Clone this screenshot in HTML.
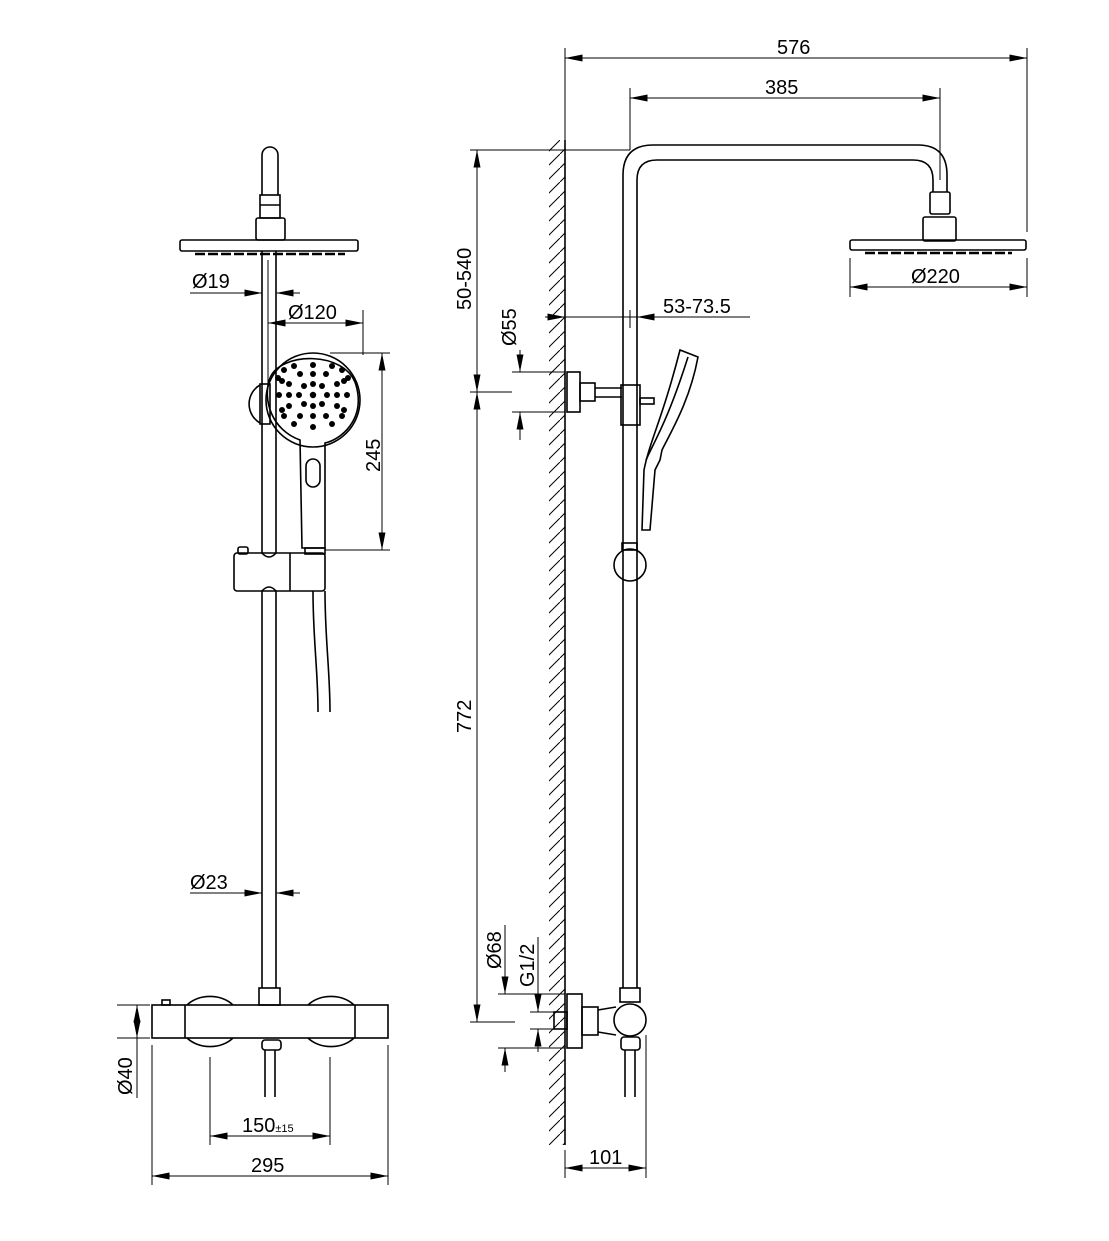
<!DOCTYPE html>
<html><head><meta charset="utf-8"><style>
html,body{margin:0;padding:0;background:#fff}
svg{display:block}
text{font-family:"Liberation Sans",Arial,sans-serif;font-size:20px;fill:#000}
</style></head><body>
<svg width="1109" height="1241" viewBox="0 0 1109 1241" xmlns="http://www.w3.org/2000/svg">
<defs>
<marker id="a" viewBox="0 0 20 8" refX="20" refY="4" markerWidth="20" markerHeight="7" markerUnits="userSpaceOnUse" orient="auto-start-reverse"><path d="M0,0 L20,4 L0,8 z" fill="#000"/></marker>
<pattern id="h" width="14" height="14" patternUnits="userSpaceOnUse"><path d="M-2,16 L16,-2" stroke="#000" stroke-width="1"/></pattern>
</defs>
<g fill="none" stroke="#000" stroke-width="1.6">
<path d="M262,195 V155 a8,8 0 0 1 16,0 V195"/>
<rect x="260" y="195" width="20" height="23"/>
<line x1="260" y1="205" x2="280" y2="205"/>
<rect x="256" y="218" width="29" height="22" rx="2"/>
<rect x="180" y="240" width="178" height="11" rx="2"/>
<line x1="195" y1="254" x2="345" y2="254" stroke-width="2.5" stroke-dasharray="10,3"/>
<line x1="262" y1="251" x2="262" y2="553"/><line x1="276" y1="251" x2="276" y2="553"/>
<path d="M260,385 a22,22 0 0 0 0,38"/>
<rect x="260" y="384" width="10" height="40"/>
<circle cx="313" cy="400" r="47"/>
<path d="M300,440 C272,430 262,400 270,378 C280,352 345,350 356,385 C366,420 340,440 325,443 L325,548 L302,548 Z"/>
<rect x="306" y="459" width="14" height="28" rx="7"/>
<rect x="305" y="548" width="20" height="6"/>
<g fill="#000" stroke="none">
<circle cx="313" cy="365" r="3"/><circle cx="313" cy="374" r="3"/><circle cx="313" cy="384" r="3"/><circle cx="313" cy="395" r="3.2"/><circle cx="313" cy="406" r="3"/><circle cx="313" cy="416" r="3"/><circle cx="313" cy="427" r="3"/>
<circle cx="279" cy="395" r="3"/><circle cx="289" cy="395" r="3"/><circle cx="299" cy="395" r="3"/><circle cx="327" cy="395" r="3"/><circle cx="337" cy="395" r="3"/><circle cx="347" cy="395" r="3"/>
<circle cx="294" cy="366" r="3"/><circle cx="332" cy="366" r="3"/><circle cx="300" cy="374" r="3"/><circle cx="326" cy="374" r="3"/><circle cx="304" cy="386" r="3"/><circle cx="322" cy="386" r="3"/>
<circle cx="304" cy="404" r="3"/><circle cx="322" cy="404" r="3"/><circle cx="300" cy="416" r="3"/><circle cx="326" cy="416" r="3"/><circle cx="294" cy="424" r="3"/><circle cx="332" cy="424" r="3"/>
<circle cx="282" cy="381" r="3"/><circle cx="344" cy="381" r="3"/><circle cx="289" cy="384" r="3"/><circle cx="337" cy="384" r="3"/><circle cx="282" cy="410" r="3"/><circle cx="344" cy="410" r="3"/><circle cx="289" cy="406" r="3"/><circle cx="337" cy="406" r="3"/>
<circle cx="348" cy="378" r="3"/><circle cx="278" cy="378" r="3"/><circle cx="284" cy="370" r="3"/><circle cx="342" cy="370" r="3"/><circle cx="284" cy="416" r="3"/><circle cx="342" cy="416" r="3"/>
</g>
<rect x="234" y="553" width="91" height="38" rx="3"/>
<line x1="290" y1="553" x2="290" y2="591"/>
<rect x="238" y="547" width="10" height="7" rx="2"/>
<path d="M262,553 q7,8 14,0 M262,591 q7,-8 14,0"/>
<line x1="262" y1="591" x2="262" y2="988"/><line x1="276" y1="591" x2="276" y2="988"/>
<path d="M313,591 C313,640 318,670 318,712 M325,591 C325,640 330,670 330,712"/>
<rect x="259" y="988" width="21" height="17"/>
<rect x="152" y="1005" width="236" height="33"/>
<line x1="185" y1="1005" x2="185" y2="1038"/><line x1="355" y1="1005" x2="355" y2="1038"/>
<path d="M187,1005 a30,24 0 0 1 46,0 M187,1038 a30,24 0 0 0 46,0 M308,1005 a30,24 0 0 1 46,0 M308,1038 a30,24 0 0 0 46,0"/>
<rect x="162" y="1000" width="8" height="5"/>
<rect x="262" y="1040" width="19" height="10" rx="3"/>
<line x1="265" y1="1050" x2="265" y2="1097"/><line x1="275" y1="1050" x2="275" y2="1097"/>
</g>
<g fill="none" stroke="#000" stroke-width="1">
<line x1="190" y1="293" x2="262" y2="293" marker-end="url(#a)"/><line x1="300" y1="293" x2="276" y2="293" marker-end="url(#a)"/>
<line x1="268" y1="260" x2="268" y2="385"/><line x1="363" y1="310" x2="363" y2="355"/>
<line x1="268" y1="323" x2="363" y2="323" marker-start="url(#a)" marker-end="url(#a)"/>
<line x1="330" y1="353" x2="390" y2="353"/><line x1="325" y1="550" x2="390" y2="550"/>
<line x1="382" y1="353" x2="382" y2="550" marker-start="url(#a)" marker-end="url(#a)"/>
<line x1="190" y1="893" x2="262" y2="893" marker-end="url(#a)"/><line x1="300" y1="893" x2="276" y2="893" marker-end="url(#a)"/>
<line x1="117" y1="1005" x2="150" y2="1005"/><line x1="117" y1="1038" x2="150" y2="1038"/>
<line x1="137" y1="1005" x2="137" y2="1098"/>
<line x1="137" y1="1005" x2="137" y2="1038" marker-start="url(#a)" marker-end="url(#a)"/>
<line x1="210" y1="1057" x2="210" y2="1145"/><line x1="330" y1="1057" x2="330" y2="1145"/>
<line x1="210" y1="1136" x2="330" y2="1136" marker-start="url(#a)" marker-end="url(#a)"/>
<line x1="152" y1="1045" x2="152" y2="1185"/><line x1="388" y1="1045" x2="388" y2="1185"/>
<line x1="152" y1="1176" x2="388" y2="1176" marker-start="url(#a)" marker-end="url(#a)"/>
</g>
<text x="192" y="288">Ø19</text>
<text x="288" y="319">Ø120</text>
<text transform="translate(380,472) rotate(-90)">245</text>
<text x="190" y="889">Ø23</text>
<text transform="translate(132,1095) rotate(-90)">Ø40</text>
<text x="242" y="1132">150<tspan font-size="11">±15</tspan></text>
<text x="251" y="1172">295</text>

<rect x="549" y="140" width="16" height="1005" fill="url(#h)"/>
<line x1="565" y1="140" x2="565" y2="1145" stroke="#000" stroke-width="1.6"/>
<g fill="none" stroke="#000" stroke-width="1.6">
<path d="M623,988 V175 Q623,145 653,145 H918 Q947,145 947,175 V192"/>
<path d="M637,988 V180 Q637,160 657,160 H913 Q933,160 933,180 V192"/>
<rect x="930" y="192" width="20" height="22" rx="2"/>
<rect x="923" y="217" width="33" height="24" rx="2"/>
<rect x="850" y="240" width="176" height="10" rx="2"/>
<line x1="865" y1="253" x2="1012" y2="253" stroke-width="2.5" stroke-dasharray="10,3"/>
<rect x="567" y="372" width="13" height="40"/>
<rect x="580" y="383" width="15" height="18"/>
<path d="M595,388 H622 M595,397 H622"/>
<rect x="621" y="385" width="19" height="40"/>
<rect x="640" y="398" width="14" height="6"/>
<path d="M642,530 L644,470 C650,440 662,420 680,350 L698,357 C690,400 672,430 662,450 L660,460 L655,470 L650,530 Z"/>
<path d="M646,460 C655,440 668,420 688,357"/>
<rect x="622" y="543" width="15" height="7"/>
<circle cx="630" cy="565" r="16"/>
<rect x="620" y="988" width="20" height="14"/>
<rect x="567" y="994" width="15" height="54"/>
<rect x="582" y="1007" width="16" height="28"/>
<rect x="554" y="1012" width="13" height="17"/>
<path d="M598,1010 L616,1007 M598,1032 L616,1035"/>
<circle cx="630" cy="1020" r="16"/>
<rect x="621" y="1037" width="19" height="13" rx="3"/>
<line x1="625" y1="1050" x2="625" y2="1097"/><line x1="635" y1="1050" x2="635" y2="1097"/>
</g>
<g fill="none" stroke="#000" stroke-width="1">
<line x1="565" y1="48" x2="565" y2="140"/><line x1="1027" y1="48" x2="1027" y2="232"/>
<line x1="565" y1="58" x2="1027" y2="58" marker-start="url(#a)" marker-end="url(#a)"/>
<line x1="630" y1="88" x2="630" y2="150"/><line x1="940" y1="88" x2="940" y2="180"/>
<line x1="630" y1="98" x2="940" y2="98" marker-start="url(#a)" marker-end="url(#a)"/>
<line x1="850" y1="258" x2="850" y2="297"/><line x1="1027" y1="258" x2="1027" y2="297"/>
<line x1="850" y1="287" x2="1027" y2="287" marker-start="url(#a)" marker-end="url(#a)"/>
<line x1="470" y1="150" x2="630" y2="150"/>
<line x1="477" y1="150" x2="477" y2="1022"/>
<line x1="477" y1="170" x2="477" y2="150" marker-end="url(#a)"/>
<line x1="477" y1="370" x2="477" y2="392" marker-end="url(#a)"/>
<line x1="477" y1="412" x2="477" y2="392" marker-end="url(#a)"/>
<line x1="470" y1="392" x2="512" y2="392"/>
<line x1="477" y1="1000" x2="477" y2="1022" marker-end="url(#a)"/>
<line x1="470" y1="1022" x2="515" y2="1022"/>
<line x1="545" y1="317" x2="750" y2="317"/>
<line x1="545" y1="317" x2="565" y2="317" marker-end="url(#a)"/>
<line x1="660" y1="317" x2="637" y2="317" marker-end="url(#a)"/>
<line x1="630" y1="310" x2="630" y2="328"/>
<line x1="512" y1="372" x2="565" y2="372"/><line x1="512" y1="412" x2="565" y2="412"/>
<line x1="520" y1="350" x2="520" y2="372" marker-end="url(#a)"/>
<line x1="520" y1="440" x2="520" y2="412" marker-end="url(#a)"/>
<line x1="498" y1="994" x2="565" y2="994"/><line x1="498" y1="1048" x2="565" y2="1048"/>
<line x1="505" y1="925" x2="505" y2="994" marker-end="url(#a)"/>
<line x1="505" y1="1072" x2="505" y2="1048" marker-end="url(#a)"/>
<line x1="530" y1="1012" x2="554" y2="1012"/><line x1="530" y1="1029" x2="554" y2="1029"/>
<line x1="538" y1="937" x2="538" y2="1012" marker-end="url(#a)"/>
<line x1="538" y1="1052" x2="538" y2="1029" marker-end="url(#a)"/>
<line x1="646" y1="1035" x2="646" y2="1178"/><line x1="565" y1="1150" x2="565" y2="1178"/>
<line x1="565" y1="1168" x2="646" y2="1168" marker-start="url(#a)" marker-end="url(#a)"/>
</g>
<text x="777" y="54">576</text>
<text x="765" y="94">385</text>
<text x="911" y="283">Ø220</text>
<text transform="translate(471,310) rotate(-90)">50-540</text>
<text transform="translate(471,733) rotate(-90)">772</text>
<text x="663" y="313">53-73.5</text>
<text transform="translate(516,346) rotate(-90)">Ø55</text>
<text transform="translate(501,969) rotate(-90)">Ø68</text>
<text transform="translate(534,987) rotate(-90)">G1/2</text>
<text x="589" y="1164">101</text>
</svg>
</body></html>
